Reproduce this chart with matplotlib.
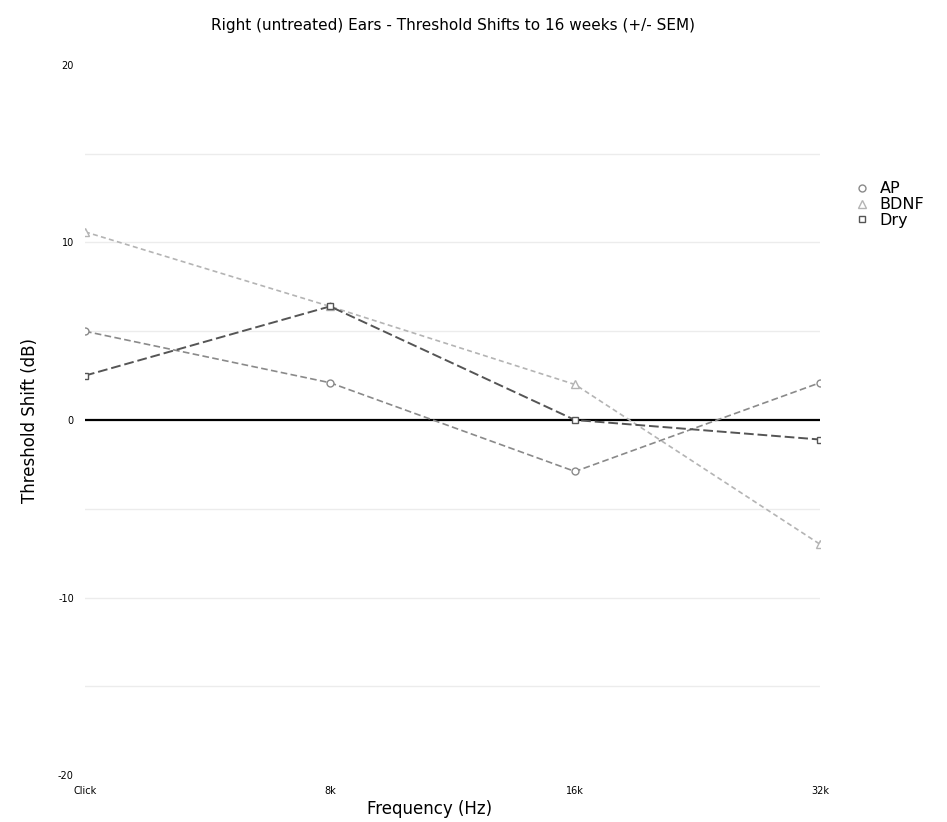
import numpy as np
import matplotlib
matplotlib.use("Agg")
import matplotlib.pyplot as plt

# data
freqs = ["Click", "8k", "16k", "32k"]
ap = [5.0, 2.1, -2.9, 2.1]
bdnf = [10.6, 6.4, 2.0, -7.0]
dry = [2.5, 6.4, 0.0, -1.1]
yticks = [-20, -10, 0, 10, 20]
gridvals = [-15, -10, -5, 5, 10, 15]

fig = plt.figure(figsize=(9.47, 8.22), dpi=100)
ax = fig.add_axes([85/947, 1 - 775/822, 735/947, 710/822])

xs = np.arange(len(freqs))
for g in gridvals:
    ax.axhline(g, color="#ececec", lw=1, zorder=0)
ax.axhline(0, color="black", lw=1.6, zorder=1)

ax.plot(xs, ap, color="#8a8a8a", ls=(0, (4, 2)), lw=1.2, marker="o", ms=5,
        mfc="white", mec="#8a8a8a", label="AP", zorder=3)
ax.plot(xs, bdnf, color="#b4b4b4", ls=(0, (3, 2)), lw=1.2, marker="^", ms=6,
        mfc="white", mec="#b4b4b4", label="BDNF", zorder=3)
ax.plot(xs, dry, color="#555555", ls=(0, (5, 2)), lw=1.4, marker="s", ms=5,
        mfc="white", mec="#555555", label="Dry", zorder=3)

ax.set_xlim(0, 3)
ax.set_ylim(-20, 20)
ax.set_xticks(xs)
ax.set_xticklabels(freqs, fontsize=7)
ax.set_yticks(yticks)
ax.set_yticklabels([str(v) for v in yticks], fontsize=7)
ax.tick_params(length=0, pad=8)
for s in ax.spines.values():
    s.set_visible(False)

ax.set_title("Right (untreated) Ears - Threshold Shifts to 16 weeks (+/- SEM)",
             fontsize=11, pad=25)
ax.set_xlabel("Frequency (Hz)", fontsize=12)
ax.xaxis.set_label_coords((430 - 85) / 735, -0.035)
ax.set_ylabel("Threshold Shift (dB)", fontsize=12, labelpad=14)

leg = ax.legend(loc="upper left", bbox_to_anchor=(1.04, 0.845), frameon=False,
                fontsize=11.5, handlelength=0.8, handletextpad=0.7,
                labelspacing=0.05, borderaxespad=0)
for ln in leg.get_lines():
    ln.set_linestyle("None")

fig.savefig("out.png", dpi=100)
